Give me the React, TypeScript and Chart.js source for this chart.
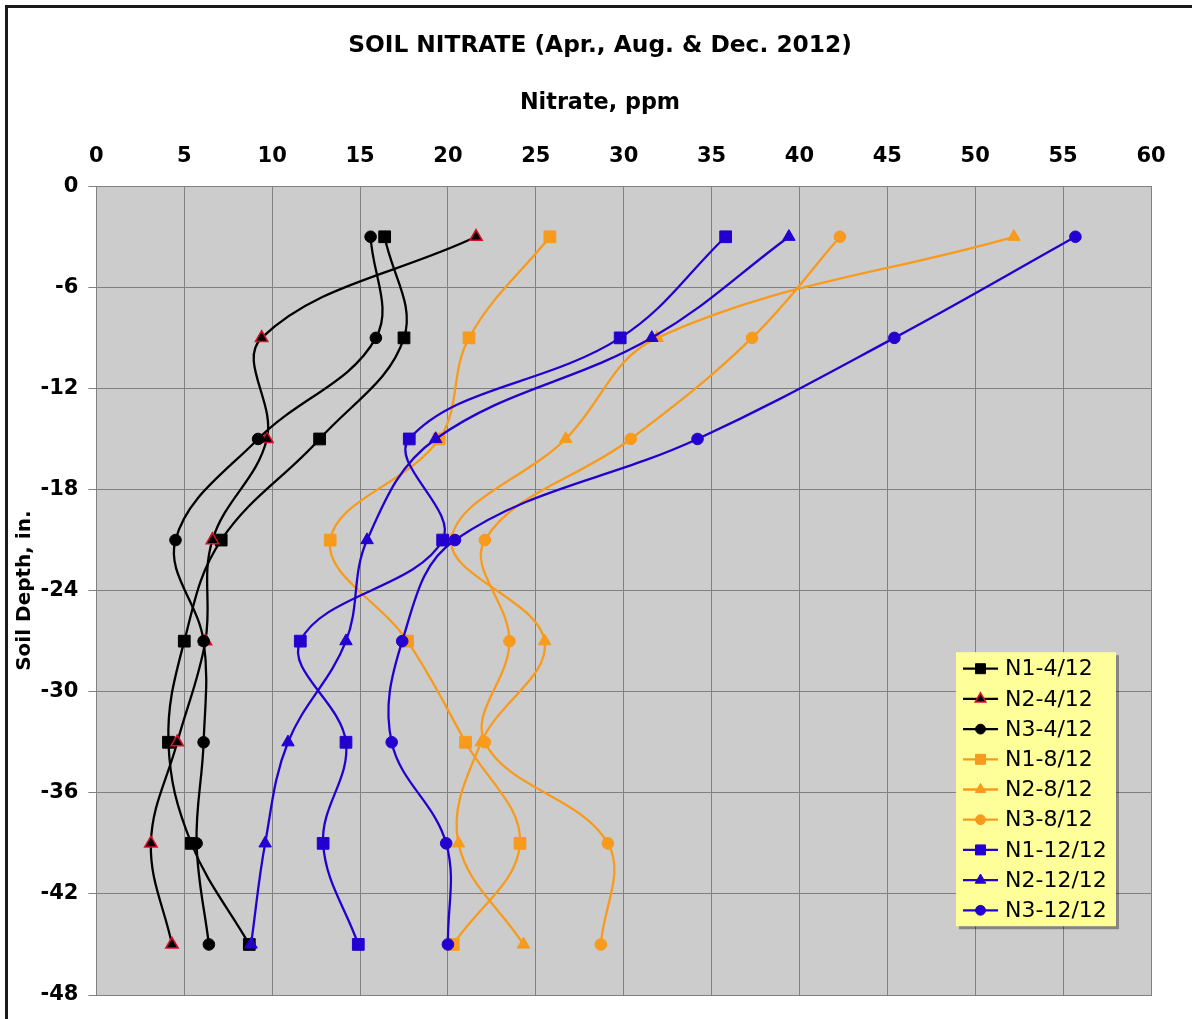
import React, { useEffect, useRef } from 'react';
import { Chart, registerables } from 'chart.js';

Chart.register(...registerables);

// ---- data ----
const depths = [-3, -9, -15, -21, -27, -33, -39, -45];
const seriesLabels = ['N1-4/12', 'N2-4/12', 'N3-4/12', 'N1-8/12', 'N2-8/12', 'N3-8/12', 'N1-12/12', 'N2-12/12', 'N3-12/12'];
const n1Apr = [16.4, 17.5, 12.7, 7.1, 5.0, 4.1, 5.4, 8.7];
const n2Apr = [21.6, 9.4, 9.7, 6.6, 6.2, 4.6, 3.1, 4.3];
const n3Apr = [15.6, 15.9, 9.2, 4.5, 6.1, 6.1, 5.7, 6.4];
const n1Aug = [25.8, 21.2, 19.5, 13.3, 17.7, 21.0, 24.1, 20.3];
const n2Aug = [52.2, 31.9, 26.7, 20.2, 25.5, 21.9, 20.6, 24.3];
const n3Aug = [42.3, 37.3, 30.4, 22.1, 23.5, 22.1, 29.1, 28.7];
const n1Dec = [35.8, 29.8, 17.8, 19.7, 11.6, 14.2, 12.9, 14.9];
const n2Dec = [39.4, 31.6, 19.3, 15.4, 14.2, 10.9, 9.6, 8.8];
const n3Dec = [55.7, 45.4, 34.2, 20.4, 17.4, 16.8, 19.9, 20.0];
const seriesValues = [n1Apr, n2Apr, n3Apr, n1Aug, n2Aug, n3Aug, n1Dec, n2Dec, n3Dec];
const xMin = 0, xMax = 60, xStep = 5;
const yMin = -48, yMax = 0, yStep = 6;
const chartTitle = 'SOIL NITRATE (Apr., Aug. & Dec. 2012)';
const xTitle = 'Nitrate, ppm';
const yTitle = 'Soil Depth, in.';

// ---- styles ----
const BLACK = '#000000';
const ORANGE = '#F89A1C';
const BLUE = '#2400D0';
const RED = '#D8102C';
const lineColors = [BLACK, BLACK, BLACK, ORANGE, ORANGE, ORANGE, BLUE, BLUE, BLUE];
const pointFills = [BLACK, BLACK, BLACK, ORANGE, ORANGE, ORANGE, BLUE, BLUE, BLUE];
const pointEdges = [BLACK, RED, BLACK, ORANGE, ORANGE, ORANGE, BLUE, BLUE, BLUE];
const pointStyles = ['rect', 'triangle', 'circle', 'rect', 'triangle', 'circle', 'rect', 'triangle', 'circle'];
const radiusFor: Record<string, number> = { rect: 8.3, triangle: 7.2, circle: 5.8 };
const FONT = '"DejaVu Sans", Verdana, sans-serif';

function drawMarker(ctx: CanvasRenderingContext2D, style: string, x: number, y: number, r: number, fill: string, edge: string, bw: number) {
  ctx.save();
  ctx.beginPath();
  if (style === 'rect') {
    const s = Math.SQRT1_2 * r;
    ctx.rect(x - s, y - s, 2 * s, 2 * s);
  } else if (style === 'triangle') {
    for (let k = 0; k < 3; k++) {
      const a = (k * 2 * Math.PI) / 3;
      const px = x + Math.sin(a) * r;
      const py = y - Math.cos(a) * r;
      if (k === 0) ctx.moveTo(px, py); else ctx.lineTo(px, py);
    }
    ctx.closePath();
  } else {
    ctx.arc(x, y, r, 0, Math.PI * 2);
  }
  ctx.fillStyle = fill;
  ctx.fill();
  ctx.lineWidth = bw;
  ctx.strokeStyle = edge;
  ctx.stroke();
  ctx.restore();
}

const plotBgPlugin = {
  id: 'plotBg',
  beforeDraw(chart: any) {
    const { ctx, chartArea: a } = chart;
    ctx.save();
    ctx.fillStyle = '#CCCCCC';
    ctx.fillRect(a.left, a.top, a.right - a.left, a.bottom - a.top);
    ctx.restore();
  },
  afterDatasetsDraw(chart: any) {
    const { ctx, chartArea: a } = chart;
    ctx.save();
    ctx.strokeStyle = '#808080';
    ctx.lineWidth = 1;
    ctx.strokeRect(Math.round(a.left) + 0.5, Math.round(a.top) + 0.5, Math.round(a.right - a.left), Math.round(a.bottom - a.top));
    ctx.restore();
  },
};

const legendPlugin = {
  id: 'boxLegend',
  afterDraw(chart: any) {
    const { ctx, chartArea: a } = chart;
    const w = 160, h = 274;
    const left = a.right - 35 - w;
    const top = a.top + 466;
    ctx.save();
    ctx.fillStyle = 'rgba(0,0,0,0.35)';
    ctx.fillRect(left + 3, top + 3, w, h);
    ctx.fillStyle = '#FFFF99';
    ctx.fillRect(left, top, w, h);
    ctx.font = `22px ${FONT}`;
    ctx.textBaseline = 'middle';
    ctx.textAlign = 'left';
    seriesLabels.forEach((label, i) => {
      const y = top + 16.5 + i * 30.2;
      ctx.strokeStyle = lineColors[i];
      ctx.lineWidth = 2.3;
      ctx.beginPath();
      ctx.moveTo(left + 7, y);
      ctx.lineTo(left + 42, y);
      ctx.stroke();
      const st = pointStyles[i];
      drawMarker(ctx, st, left + 24.5, y, radiusFor[st] * 0.85, pointFills[i], pointEdges[i], st === 'triangle' && i === 1 ? 1.5 : 1);
      ctx.fillStyle = '#000';
      ctx.fillText(label, left + 49, y + 1);
    });
    ctx.restore();
  },
};

export default function App() {
  const canvasRef = useRef<HTMLCanvasElement | null>(null);

  useEffect(() => {
    const canvas = canvasRef.current;
    if (!canvas) return;
    const datasets = seriesValues.map((vals, i) => ({
      label: seriesLabels[i],
      data: vals.map((v, j) => ({ x: v, y: depths[j] })),
      borderColor: lineColors[i],
      backgroundColor: pointFills[i],
      pointBackgroundColor: pointFills[i],
      pointBorderColor: pointEdges[i],
      pointBorderWidth: i === 1 ? 1.5 : 1,
      pointStyle: pointStyles[i],
      pointRadius: radiusFor[pointStyles[i]],
      borderWidth: 2.3,
      tension: 0.38,
      fill: false,
      order: seriesValues.length - i,
    }));

    const chart = new Chart(canvas, {
      type: 'line',
      data: { datasets },
      plugins: [plotBgPlugin, legendPlugin],
      options: {
        responsive: false,
        animation: false,
        events: [],
        layout: { padding: { top: 0, left: 0, right: 0, bottom: 24 } },
        plugins: {
          legend: { display: false },
          tooltip: { enabled: false },
          title: {
            display: true,
            text: chartTitle,
            color: '#000',
            font: { family: FONT, size: 23.3, weight: 'bold' },
            padding: { top: 24, bottom: 0 },
          },
          subtitle: {
            display: true,
            text: xTitle,
            color: '#000',
            font: { family: FONT, size: 22.3, weight: 'bold' },
            padding: { top: 30, bottom: 0 },
          },
        },
        scales: {
          x: {
            type: 'linear',
            position: 'top',
            min: xMin,
            max: xMax,
            ticks: {
              stepSize: xStep,
              color: '#000',
              font: { family: FONT, size: 21, weight: 'bold' },
              padding: 17,
              maxRotation: 0,
            },
            grid: { color: '#808080', lineWidth: 1, drawTicks: false },
            border: { display: false },
            afterFit: (scale: any) => { scale.height = 69.5; },
          },
          y: {
            type: 'linear',
            min: yMin,
            max: yMax,
            ticks: {
              stepSize: yStep,
              color: '#000',
              font: { family: FONT, size: 21, weight: 'bold' },
              padding: 10,
            },
            title: {
              display: true,
              text: yTitle,
              color: '#000',
              font: { family: FONT, size: 20, weight: 'bold' },
              padding: { top: 5, bottom: 0 },
            },
            grid: { color: '#808080', lineWidth: 1, drawTicks: true, tickLength: 8 },
            border: { display: false },
            afterFit: (scale: any) => { scale.width = 88.4; },
          },
          yRight: {
            type: 'linear',
            position: 'right',
            min: yMin,
            max: yMax,
            ticks: { display: false },
            grid: { display: false, drawTicks: false },
            border: { display: false },
            afterFit: (scale: any) => { scale.width = 41; },
          },
        },
      } as any,
    });
    return () => chart.destroy();
  }, []);

  return (
    <div
      style={{
        position: 'absolute',
        left: 5,
        top: 5,
        width: 1187,
        height: 1014,
        boxSizing: 'border-box',
        borderLeft: '3px solid #1a1a1a',
        borderTop: '3px solid #1a1a1a',
        overflow: 'hidden',
        background: '#fff',
      }}
    >
      <canvas ref={canvasRef} width={1184} height={1011} style={{ display: 'block', width: 1184, height: 1011 }} />
    </div>
  );
}
